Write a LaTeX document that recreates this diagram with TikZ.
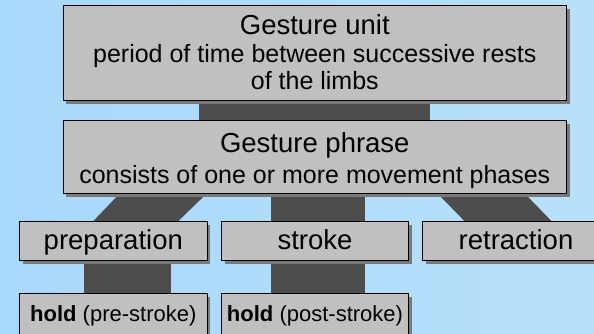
\documentclass[tikz,border=0pt]{standalone}
\usepackage{fontspec}
\setmainfont{Liberation Sans}
\usetikzlibrary{calc,shadows}

\definecolor{boxgray}{HTML}{C0C0C0}
\definecolor{linkgray}{HTML}{4D4D4D}
\definecolor{shadowgray}{HTML}{7A7A7A}
\definecolor{skyA}{HTML}{A8D8FA}
\definecolor{skyB}{HTML}{C9E8FB}
\definecolor{skyC}{HTML}{B9E0F9}

\pgfdeclarelayer{back}
\pgfdeclarelayer{links}
\pgfsetlayers{back,links,main}

\tikzset{
  box/.style={draw=black, line width=0.8pt, fill=boxgray, inner sep=0pt,
    anchor=north west,
    drop shadow={shadow xshift=3.5pt, shadow yshift=-3.5pt,
      fill=shadowgray, opacity=1}},
  link/.style={fill=linkgray},
  bigtext/.style={font=\fontsize{27.5}{30}\selectfont, anchor=base, inner sep=0pt},
  subtext/.style={font=\fontsize{25}{28}\selectfont, anchor=base, inner sep=0pt},
  holdtext/.style={font=\fontsize{22}{24}\selectfont, anchor=base, inner sep=0pt},
}

\begin{document}
\begin{tikzpicture}[x=1pt, y=-1pt]
\begin{pgfonlayer}{back}
  \path[left color=skyA, middle color=skyB, right color=skyC] (0,0) rectangle (594,334);
\end{pgfonlayer}
\useasboundingbox (0,0) rectangle (594,334);

% boxes
\node[box, minimum width=503.8pt, minimum height=95.3pt] (unit) at (62.5,4.7) {};
\node[box, minimum width=503.8pt, minimum height=72.5pt] (phrase) at (62.5,120.5) {};
\node[box, minimum width=187.2pt, minimum height=39pt] (prep) at (19.3,221) {};
\node[box, minimum width=187.2pt, minimum height=39pt] (stroke) at (221,221) {};
\node[box, minimum width=187.2pt, minimum height=39pt] (retr) at (422,221) {};
\node[box, minimum width=187.2pt, minimum height=50pt] (holdpre) at (19.3,293.3) {};
\node[box, minimum width=187.2pt, minimum height=50pt] (holdpost) at (221,293.3) {};

% labels
\node[bigtext] (unitT) at ([yshift=-29.6pt]unit.north) {Gesture unit};
\node[subtext] (unitS1) at ([yshift=-58pt]unit.north) {period of time between successive rests};
\node[subtext] (unitS2) at ([yshift=-84.6pt]unit.north) {of the limbs};
\node[bigtext] (phraseT) at ([yshift=-31.5pt]phrase.north) {Gesture phrase};
\node[subtext] (phraseS) at ([yshift=-62.8pt]phrase.north) {consists of one or more movement phases};
\node[bigtext] (prepT) at ([yshift=-28.3pt]prep.north) {preparation};
\node[bigtext] (strokeT) at ([yshift=-28.3pt]stroke.north) {stroke};
\node[bigtext] (retrT) at ([yshift=-28.3pt]retr.north) {retraction};
\node[holdtext] (holdpreT) at ([yshift=-27.7pt]holdpre.north) {\textbf{hold} (pre-stroke)};
\node[holdtext] (holdpostT) at ([yshift=-27.7pt]holdpost.north) {\textbf{hold} (post-stroke)};

% connecting bands
\begin{pgfonlayer}{links}
  \fill[link] ($(unit.south)+(-115.5,0)$) rectangle ($(phrase.north)+(115.5,0)$);
  \fill[link] ($(phrase.south)+(-195.4,0)$) -- ($(phrase.south)+(-108.4,0)$)
     -- ($(prep.north)+(65.1,0)$) -- ($(prep.north)+(-19.9,0)$) -- cycle;
  \fill[link] ($(phrase.south -| stroke.north)+(-43.6,0)$) rectangle ($(stroke.north)+(50.4,0)$);
  \fill[link] ($(phrase.south)+(123.1,0)$) -- ($(phrase.south)+(210.2,0)$)
     -- ($(retr.north)+(35.4,0)$) -- ($(retr.north)+(-51.6,0)$) -- cycle;
  \fill[link] ($(prep.south)+(-28.9,0)$) rectangle ($(holdpre.north)+(57.6,0)$);
  \fill[link] ($(stroke.south)+(-43.6,0)$) rectangle ($(holdpost.north)+(49.9,0)$);
\end{pgfonlayer}
\end{tikzpicture}
\end{document}
